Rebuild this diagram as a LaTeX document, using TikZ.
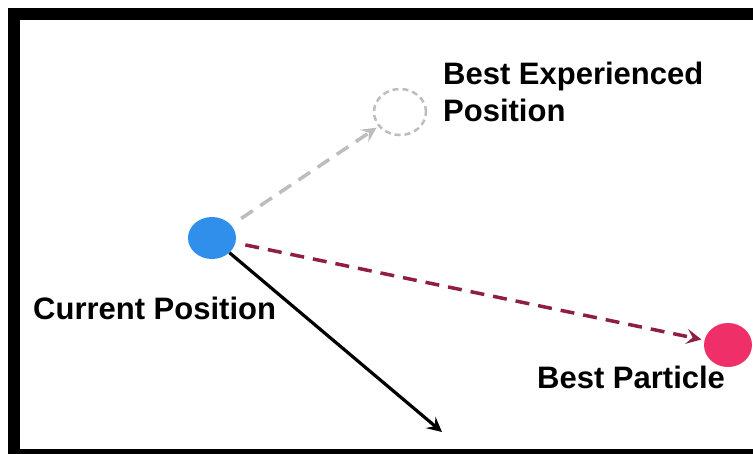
\documentclass[tikz,border=0pt]{standalone}
\usepackage{fontspec}
\setmainfont{Liberation Sans}
\usetikzlibrary{arrows.meta,shapes.geometric}
\begin{document}
\begin{tikzpicture}[x=1pt,y=-1pt,
  lbl/.style={anchor=base west,inner sep=0pt,font=\fontsize{31}{35}\selectfont\bfseries},
  dot/.style={ellipse,inner sep=0pt},
  tipstyle/.style={-{Stealth[length=15pt,width=15pt,inset=6pt]}},
]
\definecolor{pblue}{HTML}{2F8FEA}
\definecolor{ppink}{HTML}{EE2F68}
\definecolor{pgray}{HTML}{BDBDBD}
\definecolor{pred}{HTML}{8E1E45}
\useasboundingbox (0,0) rectangle (753,454);
\fill[white] (0,0) rectangle (753,454);
% frame
\fill[black] (8,8) rectangle (753,20);
\fill[black] (8,8) rectangle (20,454);
\fill[black] (8,449) rectangle (753,454);
% nodes
\node[dot,fill=pblue,minimum width=48pt,minimum height=42pt] (cur) at (212,238) {};
\node[dot,fill=ppink,minimum width=48pt,minimum height=44pt] (bp) at (728,345) {};
\node[dot,draw=pgray,dash pattern=on 6pt off 4pt,line width=2.5pt,minimum width=52pt,minimum height=46pt] (bep) at (400,112) {};
\coordinate (mv) at (442,432);
% labels
\node[lbl] (t1) at (443,85) {Best Experienced};
\node[lbl] (t2) at (443,122) {Position};
\node[lbl] (t3) at (33,320) {Current Position};
\node[lbl] (t4) at (537,389) {Best Particle};
% connectors
\draw[pgray,line width=3.5pt,dash pattern=on 14pt off 9pt,tipstyle,shorten <=12pt,shorten >=2pt] (cur) -- (bep);
\draw[pred,line width=3.5pt,dash pattern=on 14pt off 9pt,tipstyle,shorten <=10pt,shorten >=3pt] (cur) -- (bp);
\draw[black,line width=3.2pt,tipstyle] (cur) -- (mv);
\end{tikzpicture}
\end{document}
